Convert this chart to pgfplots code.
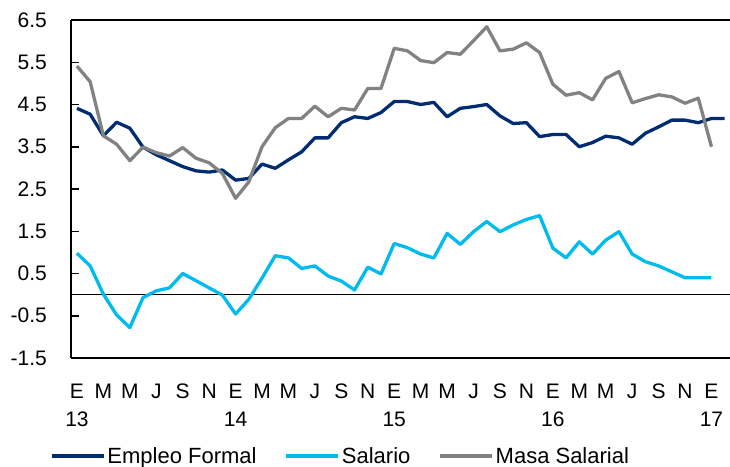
\documentclass[border=0pt]{standalone}
\usepackage{pgfplots}
\pgfplotsset{compat=1.18}
\usepackage{fontspec}
\setmainfont{Liberation Sans}
\definecolor{empleo}{RGB}{0,45,114}
\definecolor{salario}{RGB}{0,188,238}
\definecolor{masa}{RGB}{130,130,130}
\begin{document}
\begin{tikzpicture}[font=\fontsize{21bp}{28bp}\selectfont]
\useasboundingbox (-71bp,-109bp) rectangle (659bp,358bp);
\begin{axis}[
  at={(0,0)}, anchor=south west,
  scale only axis, width=659bp, height=338bp,
  xmin=-0.45, xmax=49.4, ymin=-1.5, ymax=6.5,
  axis x line=box, axis y line=left,
  axis line style={line width=1.6bp, -},
  xtick={0,2,...,48},
  xticklabels={{E\\13},M,M,J,S,N,{E\\14},M,M,J,S,N,{E\\15},M,M,J,S,N,{E\\16},M,M,J,S,N,{E\\17}},
  xticklabel style={align=center, inner sep=0pt, anchor=north, yshift=-26bp, font=\fontsize{21bp}{28bp}\selectfont},
  xtick style={draw=none},
  ytick={-1.5,-0.5,0.5,1.5,2.5,3.5,4.5,5.5,6.5},
  yticklabels={-1.5,-0.5,0.5,1.5,2.5,3.5,4.5,5.5,6.5},
  yticklabel style={inner sep=0pt, anchor=east, xshift=-24bp},
  tick align=inside, major tick length=8bp,
  ytick style={black, line width=1.5bp},
  legend columns=3,
  legend style={at={(rel axis cs:0,0)}, anchor=west, xshift=-21bp, yshift=-98bp,
    draw=none, fill=none, inner sep=0pt, font=\fontsize{22bp}{25bp}\selectfont,
    /tikz/every even column/.append style={column sep=26bp}},
  legend image code/.code={\draw[#1] (0bp,0bp) -- (52bp,0bp);},
  every axis plot/.append style={line width=3.3bp, line join=round, mark=none},
  clip=false,
]
\draw[black, line width=1.6bp] (axis cs:-0.45,0) -- (axis cs:49.4,0);
\addplot[empleo] coordinates {
(0,4.41)(1,4.27)(2,3.76)(3,4.08)(4,3.94)(5,3.49)(6,3.31)(7,3.17)(8,3.03)(9,2.93)
(10,2.90)(11,2.95)(12,2.71)(13,2.75)(14,3.09)(15,2.99)(16,3.19)(17,3.38)(18,3.71)(19,3.71)
(20,4.07)(21,4.21)(22,4.17)(23,4.31)(24,4.57)(25,4.57)(26,4.50)(27,4.55)(28,4.21)(29,4.41)
(30,4.45)(31,4.50)(32,4.23)(33,4.05)(34,4.07)(35,3.74)(36,3.79)(37,3.79)(38,3.50)(39,3.60)
(40,3.75)(41,3.71)(42,3.56)(43,3.82)(44,3.97)(45,4.13)(46,4.13)(47,4.07)(48,4.17)(49,4.17)
};
\addlegendentry{Empleo Formal}
\addplot[salario] coordinates {
(0,0.98)(1,0.68)(2,0.01)(3,-0.48)(4,-0.78)(5,-0.07)(6,0.09)(7,0.16)(8,0.50)(9,0.33)
(10,0.16)(11,-0.01)(12,-0.46)(13,-0.11)(14,0.39)(15,0.92)(16,0.87)(17,0.62)(18,0.68)(19,0.44)
(20,0.32)(21,0.11)(22,0.65)(23,0.49)(24,1.21)(25,1.11)(26,0.96)(27,0.87)(28,1.45)(29,1.19)
(30,1.49)(31,1.73)(32,1.49)(33,1.65)(34,1.78)(35,1.87)(36,1.10)(37,0.87)(38,1.25)(39,0.96)
(40,1.29)(41,1.49)(42,0.96)(43,0.78)(44,0.68)(45,0.54)(46,0.40)(47,0.40)(48,0.40)
};
\addlegendentry{Salario}
\addplot[masa] coordinates {
(0,5.41)(1,5.04)(2,3.76)(3,3.56)(4,3.17)(5,3.49)(6,3.36)(7,3.28)(8,3.48)(9,3.23)
(10,3.12)(11,2.87)(12,2.28)(13,2.67)(14,3.50)(15,3.95)(16,4.17)(17,4.17)(18,4.46)(19,4.21)
(20,4.41)(21,4.37)(22,4.88)(23,4.88)(24,5.83)(25,5.77)(26,5.54)(27,5.49)(28,5.73)(29,5.69)
(30,6.01)(31,6.34)(32,5.77)(33,5.81)(34,5.96)(35,5.73)(36,4.98)(37,4.72)(38,4.78)(39,4.61)
(40,5.12)(41,5.28)(42,4.54)(43,4.64)(44,4.73)(45,4.68)(46,4.53)(47,4.65)(48,3.50)
};
\addlegendentry{Masa Salarial}
\end{axis}
\end{tikzpicture}
\end{document}
